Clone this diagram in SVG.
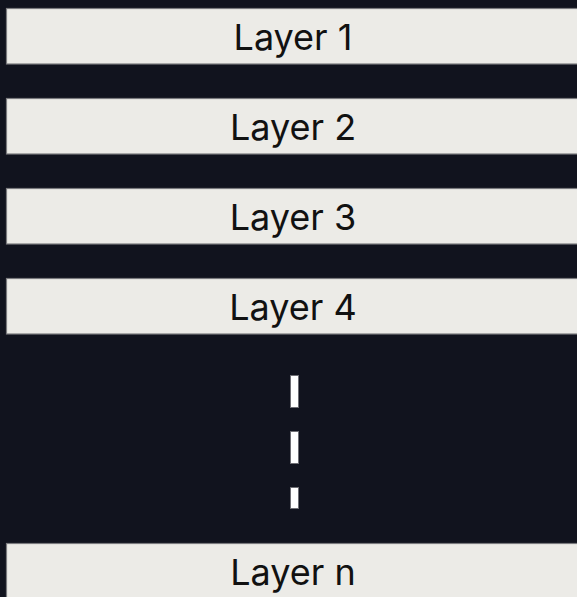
<svg xmlns="http://www.w3.org/2000/svg" width="577" height="597" viewBox="0 0 577 597">
<style>
.box{fill:#ecebe7;stroke:#7a7a7e;stroke-width:1.2}
.lbl{font-family:Inter,"Noto Sans",sans-serif;font-size:36px;fill:#111;text-anchor:middle}
.dash{fill:#ffffff;stroke:#6e6e74;stroke-width:1}
</style>
<rect x="0" y="0" width="577" height="597" fill="#11131e"/>
<g id="layer1"><rect class="box" x="6.5" y="8.5" width="580" height="55.5"/><text class="lbl" x="293" y="50">Layer 1</text></g>
<g id="layer2"><rect class="box" x="6.5" y="98.5" width="580" height="55.5"/><text class="lbl" x="293" y="140">Layer 2</text></g>
<g id="layer3"><rect class="box" x="6.5" y="188.5" width="580" height="55.5"/><text class="lbl" x="293" y="230">Layer 3</text></g>
<g id="layer4"><rect class="box" x="6.5" y="278.5" width="580" height="55.5"/><text class="lbl" x="293" y="320">Layer 4</text></g>
<g id="connectors">
<rect class="dash" x="290.5" y="375.5" width="8" height="32"/>
<rect class="dash" x="290.5" y="431.5" width="8" height="32"/>
<rect class="dash" x="290.5" y="487.5" width="8" height="21"/>
</g>
<g id="layern"><rect class="box" x="6.5" y="543.5" width="580" height="60"/><text class="lbl" x="293" y="585">Layer n</text></g>
</svg>
